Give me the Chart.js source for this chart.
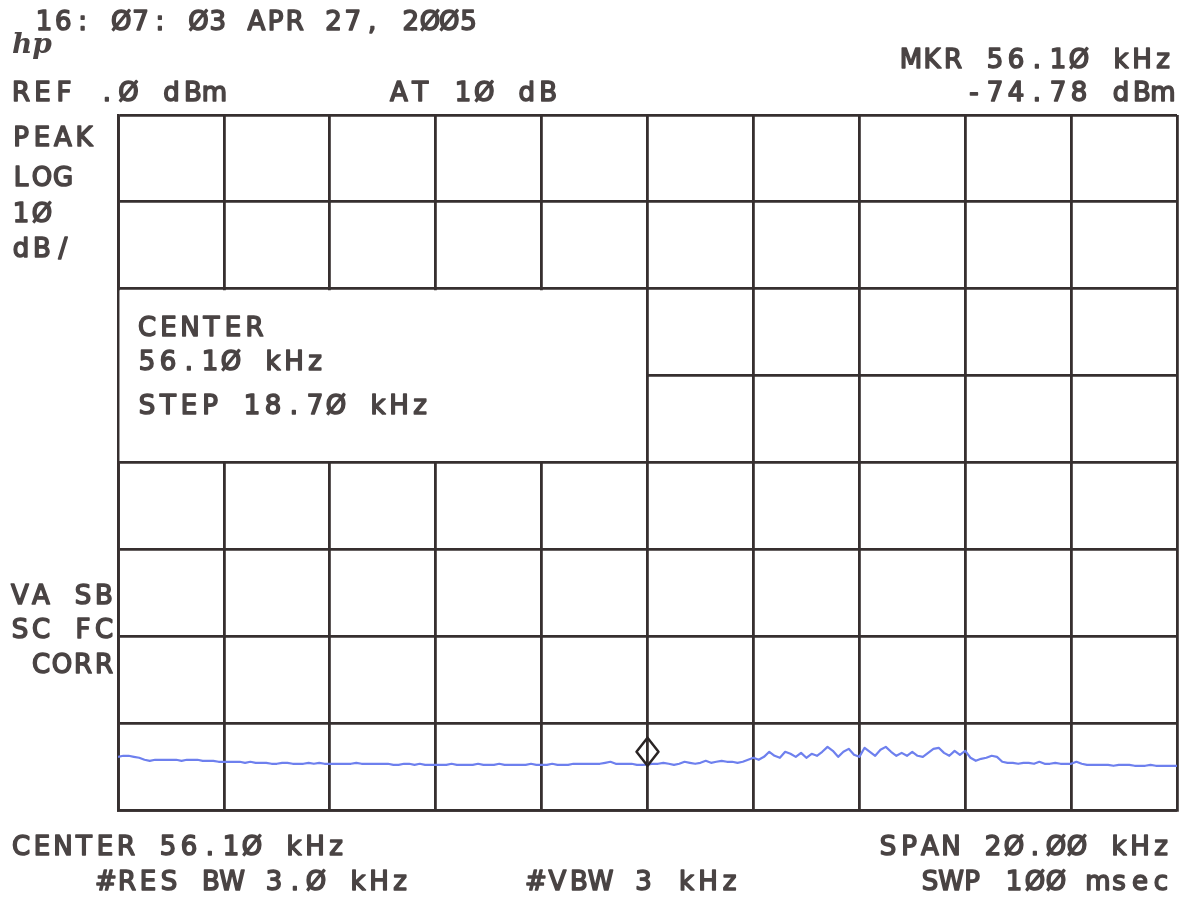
<!DOCTYPE html>
<html>
<head>
<meta charset="utf-8">
<script src="https://cdn.jsdelivr.net/npm/chart.js@4/dist/chart.umd.min.js"></script>
<style>
  html, body { margin: 0; padding: 0; background: #ffffff; }
  #wrap { width: 1184px; height: 897px; }
</style>
</head>
<body>
<div id="wrap"><canvas id="specChart" width="1184" height="897"></canvas></div>
<script>
// sweep: 46.1 .. 66.1 kHz, 0.1 kHz per sample, level in dBm
const sweepStart = 46.1;
const sweepStep = 0.1;
const levels = [
  -73.88, -73.76, -73.76, -73.88, -73.99, -74.22, -74.34, -74.22, -74.22, -74.22,
  -74.22, -74.22, -74.34, -74.22, -74.22, -74.22, -74.34, -74.34, -74.34, -74.45,
  -74.45, -74.45, -74.45, -74.45, -74.57, -74.45, -74.57, -74.57, -74.57, -74.68,
  -74.68, -74.57, -74.57, -74.68, -74.68, -74.68, -74.57, -74.68, -74.57, -74.68,
  -74.68, -74.68, -74.68, -74.68, -74.68, -74.57, -74.68, -74.68, -74.68, -74.68,
  -74.68, -74.68, -74.80, -74.80, -74.68, -74.68, -74.80, -74.68, -74.80, -74.80,
  -74.80, -74.80, -74.80, -74.68, -74.80, -74.80, -74.80, -74.80, -74.68, -74.80,
  -74.80, -74.80, -74.68, -74.80, -74.80, -74.80, -74.80, -74.80, -74.68, -74.80,
  -74.80, -74.80, -74.68, -74.80, -74.80, -74.80, -74.68, -74.68, -74.68, -74.68,
  -74.68, -74.68, -74.57, -74.45, -74.68, -74.68, -74.68, -74.68, -74.80, -74.80,
  -74.78, -74.68, -74.68, -74.57, -74.68, -74.80, -74.68, -74.45, -74.57, -74.68,
  -74.57, -74.34, -74.57, -74.45, -74.34, -74.45, -74.45, -74.57, -74.45, -74.22,
  -73.99, -74.22, -73.88, -73.30, -73.76, -73.99, -73.30, -73.53, -73.88, -73.42,
  -73.99, -73.53, -73.76, -73.30, -72.73, -73.19, -73.88, -73.30, -72.96, -73.65,
  -73.88, -72.84, -73.30, -73.76, -73.07, -72.73, -73.30, -73.76, -73.42, -73.76,
  -73.30, -73.76, -73.88, -73.42, -72.96, -72.84, -73.42, -73.76, -73.19, -73.65,
  -73.19, -73.99, -74.34, -74.11, -73.99, -73.76, -73.88, -74.45, -74.57, -74.57,
  -74.68, -74.57, -74.57, -74.68, -74.45, -74.68, -74.68, -74.57, -74.68, -74.68,
  -74.68, -74.45, -74.68, -74.80, -74.80, -74.80, -74.80, -74.80, -74.91, -74.80,
  -74.80, -74.80, -74.91, -74.91, -74.91, -74.80, -74.91, -74.91, -74.91, -74.91, -74.91
];
const freqs = levels.map((_, i) => +(sweepStart + i * sweepStep).toFixed(1));

const xTicks = [46.1, 48.1, 50.1, 52.1, 54.1, 56.1, 58.1, 60.1, 62.1, 64.1, 66.1];
const yTicks = [-80, -70, -60, -50, -40, -30, -20, -10, 0];

const marker = { freq: 56.1, level: -74.78 };

const INK = "#362f2f";
const TEXT = "#4a4444";
const FONT = "26px 'DejaVu Sans'";

// plotter style text: every character in a fixed cell
function plotText(ctx, str, x, y, pitch, align) {
  const chars = Array.from(str);
  const n = chars.length;
  ctx.textAlign = "center";
  chars.forEach((c, i) => {
    let cx;
    if (align === "right") {
      cx = x - 9 - (n - 1 - i) * pitch;
    } else {
      cx = x + 9 + i * pitch;
    }
    ctx.fillText(c, cx, y);
    ctx.strokeText(c, cx, y);
  });
}

const screenPlugin = {
  id: "screen",
  beforeDatasetsDraw(chart) {
    const { ctx, scales: { x, y } } = chart;
    // the center/step box hides the grid under it
    const x0 = x.getPixelForValue(46.1), x1 = x.getPixelForValue(56.1);
    const y0 = y.getPixelForValue(-20), y1 = y.getPixelForValue(-40);
    ctx.save();
    ctx.fillStyle = "#ffffff";
    ctx.fillRect(x0 + 1.5, y0 + 1.5, x1 - x0 - 3, y1 - y0 - 3);
    ctx.restore();
  },
  afterDraw(chart) {
    const { ctx, scales: { x, y } } = chart;
    ctx.save();
    ctx.fillStyle = TEXT;
    ctx.strokeStyle = TEXT;
    ctx.lineWidth = 1.6;
    ctx.lineJoin = "round";
    ctx.font = FONT;
    ctx.textBaseline = "alphabetic";

    plotText(ctx, "16: Ø7: Ø3 APR 27, 2ØØ5", 35, 30, 19.3, "left");
    plotText(ctx, "MKR 56.1Ø kHz", 1172, 68, 21, "right");
    plotText(ctx, "REF .Ø dBm", 12, 101, 21.5, "left");
    plotText(ctx, "AT 1Ø dB", 390, 101, 21.3, "left");
    plotText(ctx, "-74.78 dBm", 1172, 101, 21, "right");

    plotText(ctx, "PEAK", 12, 146, 21, "left");
    plotText(ctx, "LOG", 12, 186, 21, "left");
    plotText(ctx, "1Ø", 12, 222, 21, "left");
    plotText(ctx, "dB/", 12, 257, 21, "left");

    plotText(ctx, "VA SB", 113, 604, 21, "right");
    plotText(ctx, "SC FC", 113, 638, 21, "right");
    plotText(ctx, "CORR", 113, 673, 21, "right");

    plotText(ctx, "CENTER", 138, 336, 21.5, "left");
    plotText(ctx, "56.1Ø kHz", 138, 370, 21, "left");
    plotText(ctx, "STEP 18.7Ø kHz", 138, 414, 21, "left");

    plotText(ctx, "CENTER 56.1Ø kHz", 12, 855, 21, "left");
    plotText(ctx, "SPAN 2Ø.ØØ kHz", 1170, 855, 21, "right");
    plotText(ctx, "#RES BW 3.Ø kHz", 97, 890, 21, "left");
    plotText(ctx, "#VBW 3 kHz", 527, 890, 21.5, "left");
    plotText(ctx, "SWP 1ØØ msec", 1170, 890, 21, "right");

    // hp logo
    ctx.font = "italic bold 28px 'DejaVu Serif'";
    ctx.textAlign = "left";
    ctx.fillText("hp", 12, 53);

    // marker diamond, tip on the trace
    const mx = x.getPixelForValue(marker.freq);
    const my = y.getPixelForValue(marker.level);
    ctx.strokeStyle = "#2a2424";
    ctx.lineWidth = 2.5;
    ctx.beginPath();
    ctx.moveTo(mx, my + 1);
    ctx.lineTo(mx + 11, my - 13);
    ctx.lineTo(mx, my - 27);
    ctx.lineTo(mx - 11, my - 13);
    ctx.closePath();
    ctx.stroke();
    ctx.restore();
  }
};

new Chart(document.getElementById("specChart"), {
  type: "line",
  data: {
    datasets: [{
      data: freqs.map((f, i) => ({ x: f, y: levels[i] })),
      borderColor: "#6e80ee",
      borderWidth: 2.2,
      pointRadius: 0,
      tension: 0,
      borderJoinStyle: "round"
    }]
  },
  options: {
    responsive: false,
    animation: false,
    events: [],
    layout: {
      padding: { left: 118, top: 115, right: 7, bottom: 87 }
    },
    plugins: {
      legend: { display: false },
      tooltip: { enabled: false }
    },
    scales: {
      x: {
        type: "linear",
        min: 46.1,
        max: 66.1,
        afterBuildTicks: (scale) => { scale.ticks = xTicks.map(v => ({ value: v })); },
        ticks: { display: false },
        grid: { color: INK, lineWidth: 2.8, drawTicks: false },
        border: { display: true, color: INK, width: 2.8 }
      },
      y: {
        min: -80,
        max: 0,
        afterBuildTicks: (scale) => { scale.ticks = yTicks.map(v => ({ value: v })); },
        ticks: { display: false },
        grid: { color: INK, lineWidth: 2.8, drawTicks: false },
        border: { display: true, color: INK, width: 2.8 }
      }
    }
  },
  plugins: [screenPlugin]
});
</script>
</body>
</html>
